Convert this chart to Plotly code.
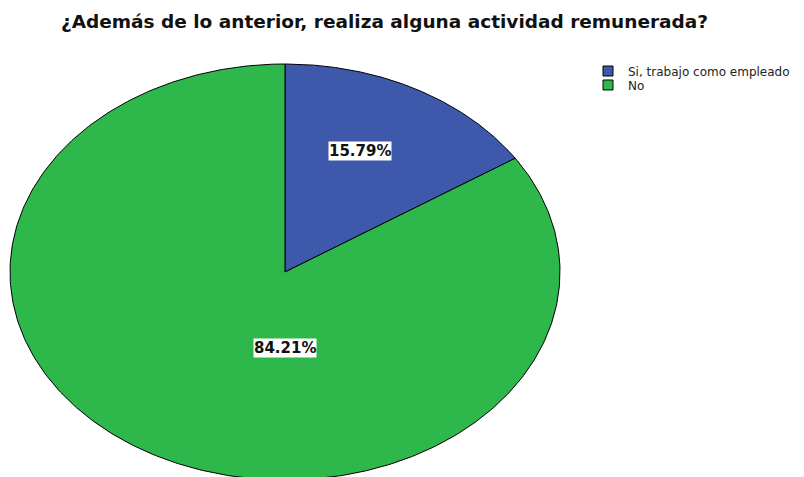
import numpy as np
import plotly.graph_objects as go

title = "¿Además de lo anterior, realiza alguna actividad remunerada?"
categories = ["Si, trabajo como empleado", "No"]
percentages = [15.79, 84.21]
colors = ["#3E58AC", "#2EB84B"]

# page is offset by the 8px body margin; work in page pixel coordinates
OFF = 8
W, H = 804 - OFF, 477 - OFF
cx, cy, rx, ry = 285, 272, 275, 208


def px(x):
    return (x - OFF) / W


def py(y):
    return 1 - (y - OFF) / H


fig = go.Figure()
start = 0.0
label_pos = [(360, 150.5), (285, 347.5)]
legend_y = [71, 85]
legend_names = ["legend", "legend2"]
for i, (cat, pct, col) in enumerate(zip(categories, percentages, colors)):
    a0 = start / 100 * 2 * np.pi
    a1 = (start + pct) / 100 * 2 * np.pi
    t = np.linspace(a0, a1, 400)
    xs = np.concatenate([[cx], cx + rx * np.sin(t), [cx]])
    ys = np.concatenate([[cy], cy - ry * np.cos(t), [cy]])
    fig.add_trace(go.Scatter(x=xs, y=ys, fill="toself", mode="lines",
                             fillcolor=col, line=dict(color="black", width=1),
                             showlegend=False, hoverinfo="skip"))
    fig.add_trace(go.Scatter(x=[None], y=[None], mode="markers", name=cat,
                             legend=legend_names[i],
                             marker=dict(symbol="square", size=10, color=col,
                                         line=dict(color="black", width=1))))
    fig.add_annotation(x=label_pos[i][0], y=label_pos[i][1], text=f"<b>{pct:.2f}%</b>",
                       showarrow=False, bgcolor="white", borderpad=0,
                       font=dict(family="DejaVu Sans", size=15, color="#111"))
    start += pct

leg_common = dict(xanchor="left", yanchor="middle", itemwidth=30,
                  font=dict(family="DejaVu Sans", size=12, color="#222"),
                  bgcolor="rgba(0,0,0,0)", borderwidth=0)

fig.update_layout(
    width=W, height=H, margin=dict(l=0, r=0, t=0, b=0, autoexpand=False),
    plot_bgcolor="white", paper_bgcolor="white",
    xaxis=dict(range=[OFF, 804], visible=False, fixedrange=True),
    yaxis=dict(range=[477, OFF], visible=False, fixedrange=True),
    title=dict(text=f"<b>{title}</b>", x=px(384.5), xanchor="center", y=py(21.5), yanchor="middle",
               font=dict(family="DejaVu Sans", size=18.5, color="#111")),
    legend=dict(x=px(588), y=py(legend_y[0]), **leg_common),
    legend2=dict(x=px(588), y=py(legend_y[1]), **leg_common),
    showlegend=True,
)
fig.write_html("out.html")
